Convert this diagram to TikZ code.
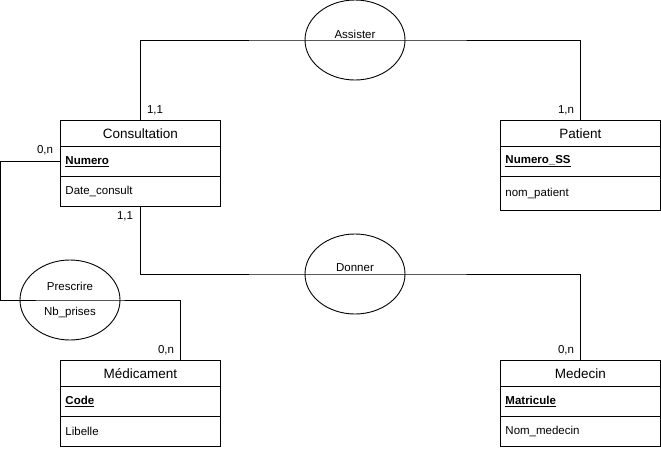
\documentclass[tikz,border=0pt]{standalone}
\usepackage{fontspec}
\setmainfont{Liberation Sans}
\usetikzlibrary{shapes.geometric}
\begin{document}
\begin{tikzpicture}[x=1pt,y=-1pt,line width=0.9pt,
  title/.style={draw,anchor=north west,minimum width=160pt,minimum height=26pt,inner sep=0pt,font=\fontsize{13.5}{15}\selectfont},
  row/.style={draw,anchor=north west,text width=150pt,inner xsep=5pt,inner ysep=0pt,align=left,minimum height=30pt,font=\fontsize{11.5}{13}\selectfont},
  rel/.style={draw,ellipse,minimum width=100pt,minimum height=80pt,inner sep=0pt},
  reltext/.style={font=\fontsize{11.5}{13}\selectfont,inner sep=0pt},
  card/.style={font=\fontsize{11.5}{13}\selectfont,inner sep=0pt}]
\useasboundingbox (0,0) rectangle (661,450);
% Consultation
\node[title] (cons-t) at (60,120) {Consultation};
\node[row] (cons-k) at (60,146) {\textbf{\underline{Numero}}};
\node[row] (cons-a) at (60,176) {Date\_consult};
% Patient
\node[title] (pat-t) at (500,120) {Patient};
\node[row] (pat-k) at (500,146) {\textbf{\underline{Numero\_SS}}};
\node[row,minimum height=34pt] (pat-a) at (500,176) {nom\_patient};
% Medicament
\node[title] (medi-t) at (60,360) {Médicament};
\node[row] (medi-k) at (60,386) {\textbf{\underline{Code}}};
\node[row] (medi-a) at (60,416) {Libelle};
% Medecin
\node[title] (med-t) at (500,360) {Medecin};
\node[row] (med-k) at (500,386) {\textbf{\underline{Matricule}}};
\node[row] (med-a) at (500,416) {Nom\_medecin};
% Relations
\node[rel] (assister) at (355,40) {};
\node[reltext] (assister-l) at (355,34) {Assister};
\node[rel] (donner) at (355,274) {};
\node[reltext] (donner-l) at (355,268) {Donner};
\node[rel] (prescrire) at (70,300) {};
\node[reltext] (prescrire-l) at (70,286) {Prescrire};
\node[reltext] (prescrire-a) at (70,313) {Nb\_prises};
% Connectors
\draw (cons-t.north) |- (assister.center) -| (pat-t.north);
\draw (cons-a.south) |- (donner.center) -| (med-t.north);
\coordinate (p1) at (0,300);
\coordinate (p2) at (180,360);
\draw (cons-k.west) -| (p1) -- (prescrire.center) -| (p2);
% Cardinalities
\node[card] (c1) at (155,110) {1,1};
\node[card] (c2) at (566,110) {1,n};
\node[card] (c3) at (45,150) {0,n};
\node[card] (c4) at (125,216) {1,1};
\node[card] (c5) at (166,350) {0,n};
\node[card] (c6) at (566,350) {0,n};
\end{tikzpicture}
\end{document}
